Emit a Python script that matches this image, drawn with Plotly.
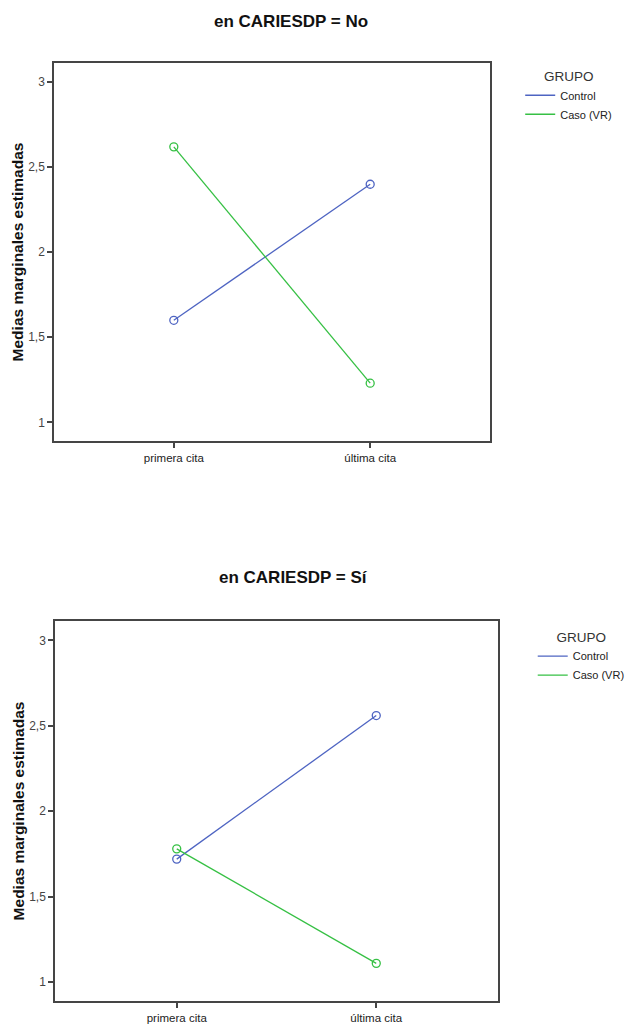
import plotly.graph_objects as go

categories = ["primera cita", "última cita"]
groups = ["Control", "Caso (VR)"]
colors = ["#4e64c2", "#36c044"]

no_control = [1.60, 2.40]
no_caso = [2.62, 1.23]
si_control = [1.72, 2.56]
si_caso = [1.78, 1.11]

ytick_vals = [1, 1.5, 2, 2.5, 3]
ytick_text = ["1", "1,5", "2", "2,5", "3"]

titles = ["en CARIESDP = No", "en CARIESDP = Sí"]

FONT = "Liberation Sans, Arial, sans-serif"
AX = "#454545"

fig = go.Figure()

panels = [
    (no_control, no_caso, "x", "y", "legend"),
    (si_control, si_caso, "x2", "y2", "legend2"),
]
for (ctrl, caso, xa, ya, lg) in panels:
    for vals, name, col in [(ctrl, groups[0], colors[0]), (caso, groups[1], colors[1])]:
        fig.add_trace(go.Scatter(
            x=categories, y=vals, mode="lines+markers", name=name,
            line=dict(color=col, width=1.3),
            marker=dict(symbol="circle-open", size=8, color=col, line=dict(width=1.3)),
            xaxis=xa, yaxis=ya, showlegend=False, cliponaxis=False,
        ))
    for name, col in zip(groups, colors):
        fig.add_trace(go.Scatter(
            x=[None], y=[None], mode="lines", name=name,
            line=dict(color=col, width=1.3),
            xaxis=xa, yaxis=ya, showlegend=True, legend=lg,
        ))

xcommon = dict(
    type="category", range=[-0.61, 1.61], showline=True, mirror=True,
    linecolor=AX, linewidth=1.5, ticks="outside", ticklen=5, tickwidth=1.5,
    tickcolor=AX, showgrid=False, zeroline=False,
    tickfont=dict(family=FONT, size=11.5, color="#222"),
)
ycommon = dict(
    range=[0.89, 3.113], showline=True, mirror=True,
    linecolor=AX, linewidth=1.5, ticks="outside", ticklen=5, tickwidth=1.5,
    tickcolor=AX, showgrid=False, zeroline=False,
    tickvals=ytick_vals, ticktext=ytick_text,
    tickfont=dict(family=FONT, size=12, color="#444"),
    title=dict(text="<b>Medias marginales estimadas</b>", standoff=1,
               font=dict(family=FONT, size=15.5, color="#111")),
)

legcommon = dict(
    title=dict(text="GRUPO", side="top center", font=dict(family=FONT, size=13.5, color="#333")),
    font=dict(family=FONT, size=11, color="#222"),
    bgcolor="rgba(0,0,0,0)", itemwidth=30, tracegroupgap=0,
    xanchor="left", yanchor="top",
)

fig.update_layout(
    width=626, height=1028,
    margin=dict(l=0, r=0, t=0, b=0, autoexpand=False),
    paper_bgcolor="white", plot_bgcolor="white",
    xaxis=dict(domain=[0.0863, 0.7827], anchor="y", **xcommon),
    yaxis=dict(domain=[0.571, 0.9387], anchor="x", **ycommon),
    xaxis2=dict(domain=[0.0879, 0.7955], anchor="y2", **xcommon),
    yaxis2=dict(domain=[0.0263, 0.3959], anchor="x2", **ycommon),
    legend=dict(x=0.831, y=0.9385, **legcommon),
    legend2=dict(x=0.851, y=0.393, **legcommon),
    annotations=[
        dict(text="<b>" + titles[0] + "</b>", x=291 / 626, y=1 - 21 / 1028,
             xref="paper", yref="paper", showarrow=False, yanchor="middle",
             font=dict(family=FONT, size=17, color="#111")),
        dict(text="<b>" + titles[1] + "</b>", x=293 / 626, y=1 - 577 / 1028,
             xref="paper", yref="paper", showarrow=False, yanchor="middle",
             font=dict(family=FONT, size=17, color="#111")),
    ],
)

fig.write_html("out.html")
